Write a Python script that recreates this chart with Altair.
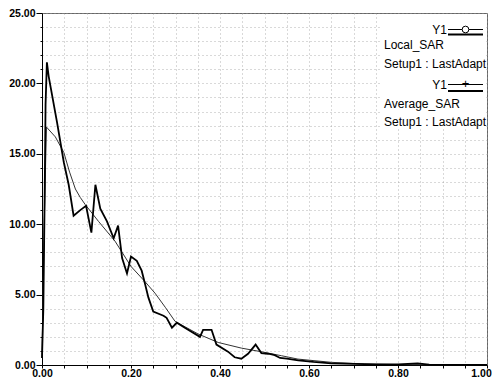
import altair as alt
import pandas as pd

# Local_SAR (thick line)
local_x = [0, 0.003, 0.006, 0.008, 0.011, 0.015, 0.034, 0.049, 0.06, 0.071, 0.086, 0.099,
           0.111, 0.12, 0.131, 0.146, 0.161, 0.171, 0.18, 0.191, 0.2, 0.213, 0.224, 0.232,
           0.239, 0.25, 0.273, 0.28, 0.292, 0.303, 0.321, 0.355, 0.362, 0.381, 0.392, 0.418,
           0.433, 0.448, 0.463, 0.48, 0.493, 0.508, 0.516, 0.523, 0.535, 0.55, 0.576, 0.61,
           0.65, 0.7, 0.75, 0.8, 0.844, 0.87, 0.9, 1.0]
local_y = [0.5, 4.0, 12.0, 18.5, 21.5, 20.5, 17.2, 14.4, 12.8, 10.6, 11.0, 11.3,
           9.4, 12.8, 11.1, 10.2, 9.0, 9.9, 7.6, 6.5, 7.7, 7.4, 6.7, 5.7,
           4.8, 3.8, 3.5, 3.35, 2.65, 3.0, 2.65, 2.0, 2.5, 2.5, 1.45, 0.95,
           0.55, 0.45, 0.8, 1.45, 0.85, 0.8, 0.75, 0.7, 0.5, 0.45, 0.33, 0.22,
           0.12, 0.08, 0.05, 0.04, 0.12, 0.02, 0.01, 0.0]

# Average_SAR (thin line)
avg_x = [0, 0.005, 0.01, 0.03, 0.049, 0.062, 0.075, 0.086, 0.097, 0.127, 0.164, 0.2,
         0.232, 0.254, 0.277, 0.299, 0.351, 0.396, 0.448, 0.493, 0.538, 0.575, 0.65,
         0.725, 0.8, 0.9, 1.0]
avg_y = [0.5, 10.0, 16.9, 16.2, 15.1, 13.7, 12.5, 11.9, 11.4, 10.2, 8.8, 7.0,
         5.9, 5.1, 4.1, 3.1, 2.2, 1.6, 1.2, 0.94, 0.66, 0.42, 0.19,
         0.07, 0.03, 0.01, 0.0]

x_ticks = [round(0.05 * i, 2) for i in range(21)]
y_ticks = list(range(0, 26))

local_df = pd.DataFrame({"x": local_x, "y": local_y})
avg_df = pd.DataFrame({"x": avg_x, "y": avg_y})

FONT = "Liberation Sans"

xenc = alt.X("x:Q", scale=alt.Scale(domain=[0, 1], nice=False),
             axis=alt.Axis(values=x_ticks, title=None,
                           labelExpr="(round(datum.value*100) % 20 == 0) ? format(datum.value, '.2f') : ''",
                           labelOffset={"condition": {"test": "datum.value >= 0.99", "value": -6}, "value": 0},
                           tickSize=3, labelPadding=0, labelFontSize=10.5,
                           labelFontWeight="bold", labelFont=FONT,
                           gridDash=[1, 3], gridColor="#9a9a9a", gridOpacity=0.75,
                           domainColor="black", tickColor="black", labelColor="black",
                           labelFlush=False, labelOverlap=False))
yenc = alt.Y("y:Q", scale=alt.Scale(domain=[0, 25], nice=False),
             axis=alt.Axis(values=y_ticks, title=None,
                           labelExpr="(datum.value % 5 == 0) ? format(datum.value, '.2f') : ''",
                           tickSize={"condition": {"test": "datum.value % 5 == 0", "value": 6}, "value": 2},
                           labelPadding=1, labelFontSize=10.5,
                           labelFontWeight="bold", labelFont=FONT,
                           gridDash=[1, 3], gridColor="#9a9a9a", gridOpacity=0.75,
                           domainColor="black", tickColor="black", labelColor="black",
                           labelFlush=False, labelOverlap=False))

avg_line = alt.Chart(avg_df).mark_line(color="#333333", strokeWidth=1).encode(x=xenc, y=yenc)
local_line = alt.Chart(local_df).mark_line(color="black", strokeWidth=1.8).encode(x=xenc, y=yenc)

one = pd.DataFrame({"a": [0]})
base = alt.Chart(one)

legend_box = base.mark_rect(fill="white").encode(
    x=alt.value(339), x2=alt.value(444), y=alt.value(1), y2=alt.value(115))

def txt(s, x, y, align="left"):
    return base.mark_text(text=s, font=FONT, fontSize=12, align=align,
                          baseline="middle", color="black").encode(x=alt.value(x), y=alt.value(y))

def hline(x1, x2, y, w=1.0):
    return base.mark_rule(color="black", strokeWidth=w).encode(
        x=alt.value(x1), x2=alt.value(x2), y=alt.value(y))

legend = [
    txt("Y1", 405, 16.5, "right"),
    hline(406, 441, 16.5),
    hline(406, 441, 21.5, 2),
    base.mark_point(shape="circle", size=45, fill="white", stroke="black", filled=False,
                    strokeWidth=1, opacity=1).encode(x=alt.value(423.5), y=alt.value(16.5)),
    txt("Local_SAR", 342, 32),
    txt("Setup1 : LastAdapt", 342, 50.5),
    txt("Y1", 405, 71.5, "right"),
    hline(406, 441, 71.5),
    hline(406, 441, 78, 2),
    base.mark_text(text="+", font=FONT, fontSize=13, color="black", baseline="middle").encode(
        x=alt.value(423.5), y=alt.value(71)),
    txt("Average_SAR", 342, 91),
    txt("Setup1 : LastAdapt", 342, 109),
]

chart = alt.layer(legend_box, avg_line, local_line, *legend).properties(
    width=445, height=352,
    autosize=alt.AutoSizeParams(type="none"),
    padding={"left": 34, "top": 5, "right": 7, "bottom": 13},
).configure_view(stroke="#666666", strokeWidth=1)

chart.save("out.html", embed_options={"renderer": "svg", "actions": False})
